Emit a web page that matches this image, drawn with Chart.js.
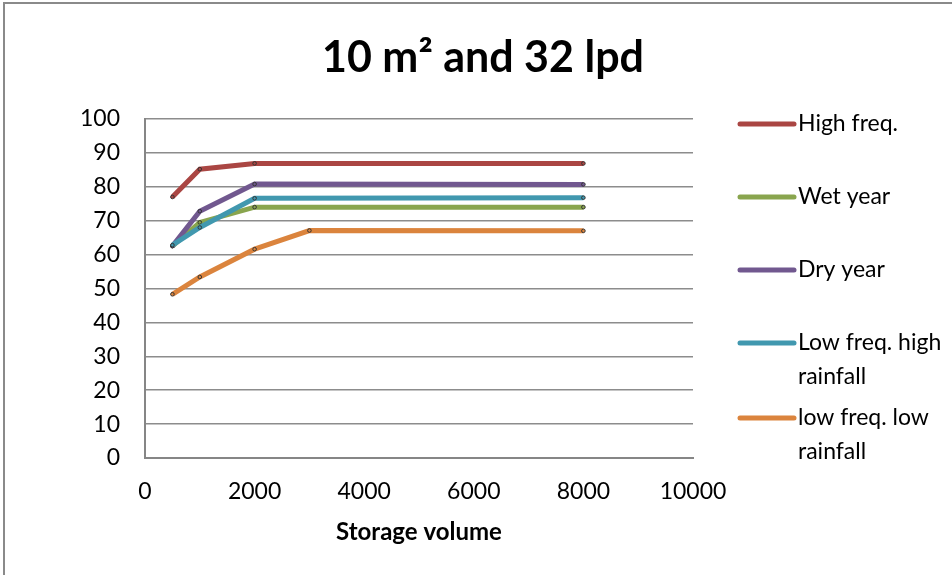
<!DOCTYPE html>
<html>
<head>
    <script src="https://cdn.jsdelivr.net/npm/chart.js@4"></script>
    <style>
        body { margin: 0; background: #fff; }
        #frame { position: absolute; left: 3px; top: 2px; width: 949px; height: 573px;
                 border-left: 2px solid #8a8a8a; border-top: 2px solid #8a8a8a; }
        #wrap { position: absolute; left: 0; top: 0; width: 952px; height: 575px; }
    </style>
</head>
<body>
  <div id="frame"></div>
  <div id="wrap"><canvas id="line-chart" width="952" height="575"></canvas></div>
  <script>
    // storage volume (x) and reliability per scenario (y)
    var volumes = [500, 1000, 2000, 8000];
    var volumesLow = [500, 1000, 2000, 3000, 8000];
    var highFreq = [77, 85.2, 86.9, 86.9];
    var wetYear = [62.5, 69.5, 74, 74];
    var dryYear = [62.5, 72.8, 80.8, 80.7];
    var lowFreqHigh = [62.8, 68, 76.6, 76.8];
    var lowFreqLow = [48.3, 53.4, 61.6, 67.1, 67];

    var seriesNames = ['High freq.', 'Wet year', 'Dry year', 'Low freq. high|rainfall', 'low freq. low|rainfall'];
    var seriesValues = [highFreq, wetYear, dryYear, lowFreqHigh, lowFreqLow];
    var seriesX = [volumes, volumes, volumes, volumes, volumesLow];
    var colors = ['#AA4643', '#89A54E', '#71588F', '#4198AF', '#DB843D'];
    var chartTitle = '10 m\u00B2 and 32 lpd';

    var FONT = 'Lato, "Open Sans", sans-serif';

    var datasets = seriesValues.map(function(vals, i) {
        return {
            label: seriesNames[i].replace('|', ' '),
            data: vals.map(function(v, j) { return {x: seriesX[i][j], y: v}; }),
            borderColor: colors[i],
            backgroundColor: colors[i],
            borderWidth: 5,
            pointRadius: 1.8,
            pointBorderColor: '#333',
            pointBorderWidth: 1,
            order: seriesValues.length - i
        };
    });

    // title centred on the whole canvas, legend to the right of the plot
    var sideLegend = {
        id: 'sideLegend',
        afterDraw: function(chart) {
            var ctx = chart.ctx;
            ctx.save();
            ctx.fillStyle = '#000';
            ctx.textBaseline = 'middle';
            ctx.textAlign = 'center';
            ctx.font = 'bold 43px ' + FONT;
            ctx.fillText(chartTitle, 483, 58);

            var left = chart.chartArea.right + 47;
            var rows = [124, 197, 270, 343, 418];
            ctx.font = '23px ' + FONT;
            ctx.textAlign = 'left';
            seriesNames.forEach(function(name, i) {
                var y = rows[i];
                ctx.strokeStyle = colors[i];
                ctx.lineWidth = 5;
                ctx.lineCap = 'round';
                ctx.beginPath();
                ctx.moveTo(left, y);
                ctx.lineTo(left + 54, y);
                ctx.stroke();
                name.split('|').forEach(function(line, k) {
                    ctx.fillText(line, left + 58, y + k * 34);
                });
            });
            ctx.restore();
        }
    };

    new Chart(document.getElementById('line-chart'), {
        type: 'line',
        data: { datasets: datasets },
        plugins: [sideLegend],
        options: {
            responsive: false,
            animation: false,
            layout: { padding: { left: 0, right: 259, top: 119, bottom: 28 } },
            plugins: {
                legend: { display: false },
                tooltip: { enabled: false }
            },
            scales: {
                x: {
                    type: 'linear',
                    min: 0, max: 10000,
                    afterFit: function(scale) { scale.height = 89; },
                    ticks: { stepSize: 2000, color: '#000', padding: 20,
                             font: { family: FONT, size: 23 },
                             callback: function(v) { return String(v); } },
                    grid: { display: false, drawTicks: false },
                    border: { color: '#868686', width: 2 },
                    title: { display: true, text: 'Storage volume', color: '#000',
                             font: { family: FONT, size: 24, weight: 'bold' },
                             padding: { top: 0, bottom: 0 } }
                },
                y: {
                    min: 0, max: 100,
                    afterFit: function(scale) { scale.width = 145; },
                    ticks: { stepSize: 10, color: '#000', padding: 25,
                             font: { family: FONT, size: 23 } },
                    grid: { color: '#8c8c8c', lineWidth: 1.5, drawTicks: false },
                    border: { color: '#868686', width: 2 }
                }
            }
        }
    });
  </script>
</body>
</html>
